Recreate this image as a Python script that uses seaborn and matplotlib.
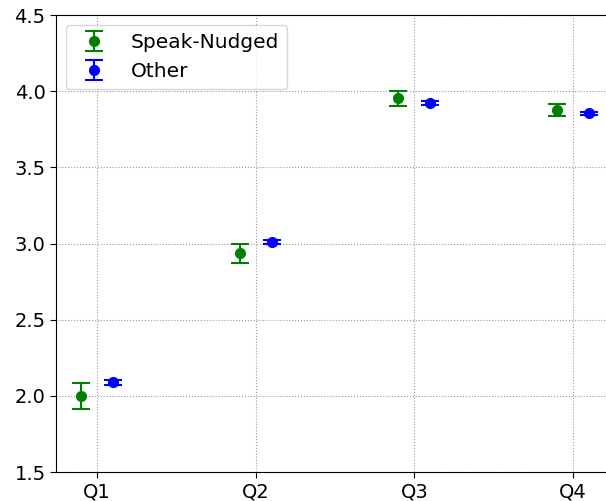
import matplotlib
matplotlib.use("Agg")
import matplotlib.pyplot as plt
import seaborn as sns
import numpy as np
import pandas as pd

categories = ["Q1", "Q2", "Q3", "Q4"]
speak_mean = [2.00, 2.935, 3.952, 3.875]
speak_err = [0.085, 0.06, 0.048, 0.04]
other_mean = [2.09, 3.012, 3.922, 3.855]
other_err = [0.016, 0.012, 0.012, 0.01]

sns.set_style("ticks")
plt.rcParams['font.family'] = ['DejaVu Sans']
plt.rcParams['text.color'] = 'black'
plt.rcParams['xtick.color'] = 'black'
plt.rcParams['ytick.color'] = 'black'

fig = plt.figure(figsize=(6.06, 5.01), dpi=100)
ax = fig.add_axes([56/606, 1-472/501, (614-56)/606, (472-15)/501])

x = np.arange(len(categories))
ax.errorbar(x - 0.1, speak_mean, yerr=speak_err, fmt='o', color='green',
            capsize=6.5, markersize=7, elinewidth=1.5, capthick=1.5, label='Speak-Nudged')
ax.errorbar(x + 0.1, other_mean, yerr=other_err, fmt='o', color='blue',
            capsize=6.5, markersize=7, elinewidth=1.5, capthick=1.5, label='Other')

ax.set_xticks(x)
ax.set_xticklabels(categories)
ax.set_ylim(1.5, 4.5)
ax.set_xlim(-0.26, 3.26)
ax.grid(True, linestyle=':', color='#999999', linewidth=0.8)
ax.tick_params(labelsize=14, length=4, width=0.8)
for s in ax.spines.values():
    s.set_color('black')
    s.set_linewidth(0.8)
leg = ax.legend(loc='upper left', fontsize=14.5, frameon=True)
for t in leg.get_texts():
    t.set_color('black')

fig.savefig("out.png", dpi=100)
